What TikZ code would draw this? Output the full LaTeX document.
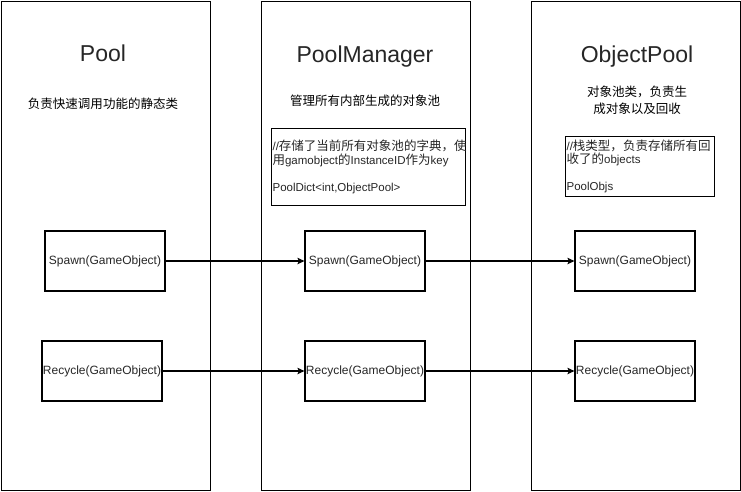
\documentclass[tikz,border=0pt]{standalone}
\usepackage{fontspec}
\setmainfont{Liberation Sans}
\newfontfamily\cjk[Scale=1.087]{Noto Sans CJK SC}
\usepackage{tikz}
\usetikzlibrary{arrows.meta,positioning}

\begin{document}
\begin{tikzpicture}[
    x=1pt, y=-1pt,
    lane/.style={draw, line width=1.2pt, minimum width=209.5pt, minimum height=489.5pt,
                 anchor=north west, inner sep=0pt},
    title/.style={font=\fontsize{23}{27}\selectfont, text=black!85},
    note/.style={font=\fontsize{11.5}{17}\selectfont, align=center},
    memo/.style={draw, line width=1.2pt, anchor=north west, align=left, inner sep=1pt,
                 font=\fontsize{11.5}{13.5}\selectfont, text=black!85},
    method/.style={draw, line width=1.2pt, minimum width=120pt, minimum height=60pt,
                   inner sep=1pt, font=\fontsize{12}{14}\selectfont, text=black!85},
    arrow/.style={-{Stealth[length=7pt,width=6.5pt,inset=1.5pt]}, line width=1.1pt},
]
    \useasboundingbox (0,0) rectangle (741,491);

    \node[lane] (poolLane) at (0.6,0.6)   {};
    \node[lane] (mgrLane)  at (260.5,0.6) {};
    \node[lane] (objLane)  at (530.5,0.6) {};

    \node[title] (poolTitle) at (103,53) {Pool};
    \node[title] (mgrTitle)  at (365,57) {PoolManager};
    \node[title] (objTitle)  at (637,57) {ObjectPool};

    \node[note] (poolNote) at (103,104) {\cjk 负责快速调用功能的静态类};
    \node[note] (mgrNote)  at (365,101) {\cjk 管理所有内部生成的对象池};
    \node[note] (objNote)  at (637,100) {\cjk 对象池类，负责生\\\cjk 成对象以及回收};

    \node[memo, text width=192pt, minimum height=77pt] (mgrDict) at (271,128)
        {//{\cjk 存储了当前所有对象池的字典，使}\\
         {\cjk 用}gamobject{\cjk 的}InstanceID{\cjk 作为}key\\[13.5pt]
         PoolDict<int,ObjectPool>};
    \node[memo, text width=147pt, minimum height=60pt] (objStack) at (565,136)
        {//{\cjk 栈类型，负责存储所有回}\\
         {\cjk 收了的}objects\\[13.5pt]
         PoolObjs};

    \node[method] (poolSpawn)   at (105,261) {Spawn(GameObject)};
    \node[method] (poolRecycle) at (102,371) {Recycle(GameObject)};
    \node[method] (mgrSpawn)    at (365,261) {Spawn(GameObject)};
    \node[method] (mgrRecycle)  at (365,371) {Recycle(GameObject)};
    \node[method] (objSpawn)    at (635,261) {Spawn(GameObject)};
    \node[method] (objRecycle)  at (635,371) {Recycle(GameObject)};

    \draw[arrow] (poolSpawn)   -- (mgrSpawn);
    \draw[arrow] (mgrSpawn)    -- (objSpawn);
    \draw[arrow] (poolRecycle) -- (mgrRecycle);
    \draw[arrow] (mgrRecycle)  -- (objRecycle);
\end{tikzpicture}
\end{document}
